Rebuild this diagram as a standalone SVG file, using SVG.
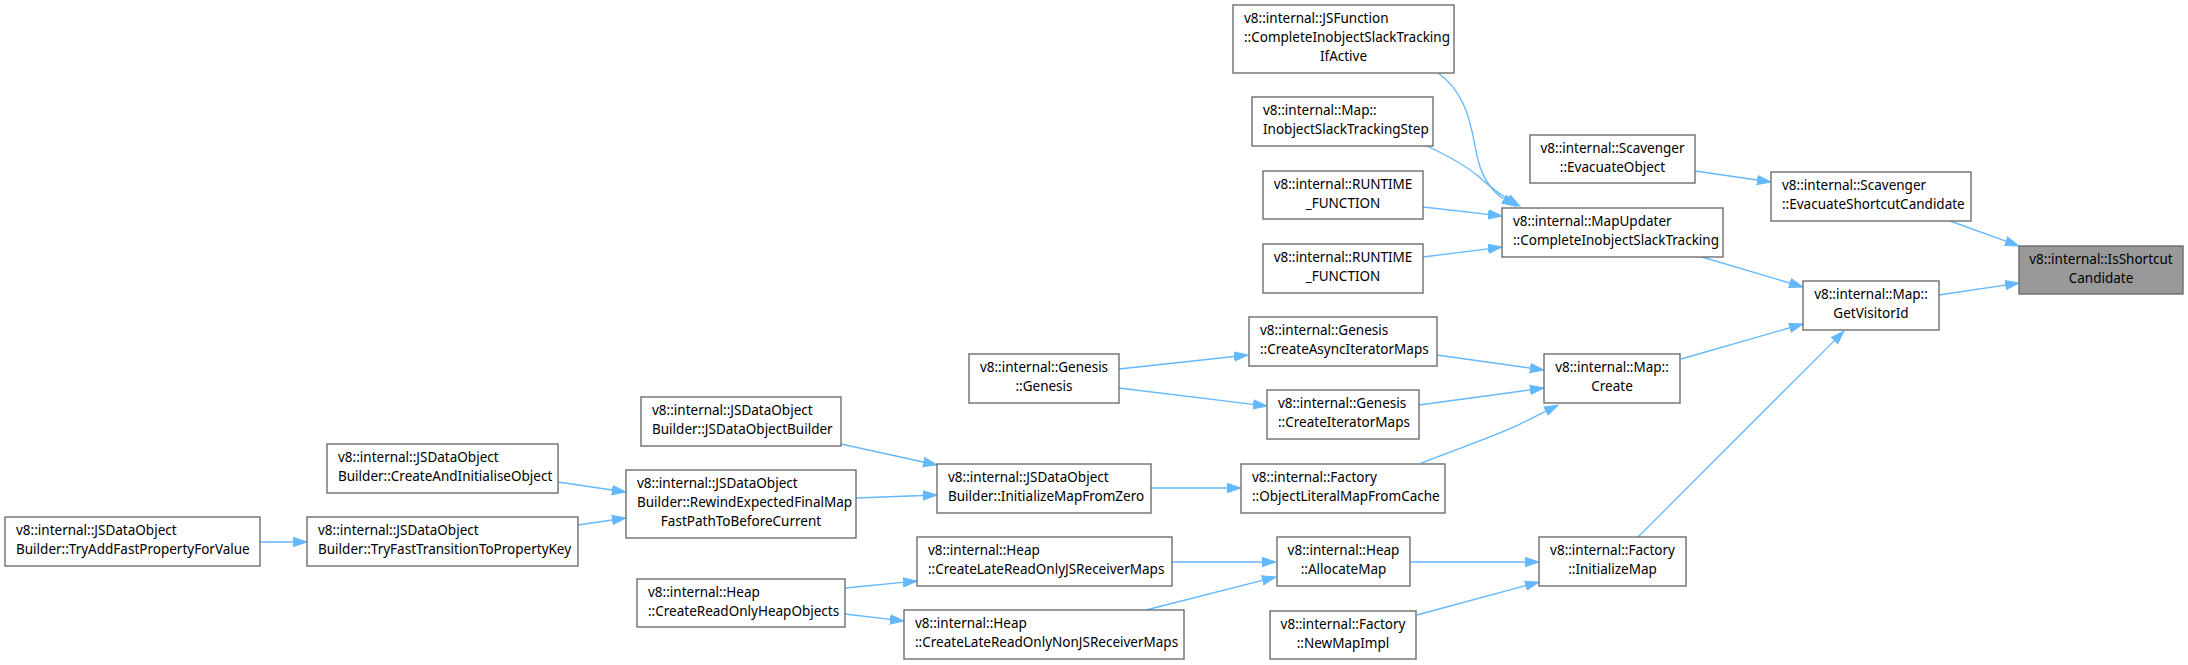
<svg xmlns="http://www.w3.org/2000/svg" width="2188" height="665" viewBox="0 0 2188 665">
<style>
.node rect{fill:#ffffff;stroke:#666666;stroke-width:1.33}
.node.hl rect{fill:#999999}
text{font-family:"Noto Sans","Open Sans",sans-serif;font-size:13.5px;fill:#000000}
text.c{text-anchor:middle}
.edges path{fill:none;stroke:#63b8ff;stroke-width:1.33}
</style>
<defs>
<marker id="ah" markerUnits="userSpaceOnUse" markerWidth="16" markerHeight="12" viewBox="0 0 16 12" refX="0" refY="6" orient="auto">
<path d="M0,1.3 L14,6 L0,10.7 z" fill="#63b8ff" stroke="#63b8ff" stroke-width="1"/>
</marker>
</defs>
<rect x="0" y="0" width="2188" height="665" fill="#ffffff"/>
<g id="connectors" class="edges">
<path marker-end="url(#ah)" d="M1950,221 L2005.8,241.2"/>
<path marker-end="url(#ah)" d="M1939,295 L2005.2,285.1"/>
<path marker-end="url(#ah)" d="M1695,171 L1757.1,180"/>
<path marker-end="url(#ah)" d="M1702,257 L1789.6,283"/>
<path marker-end="url(#ah)" d="M1681,359 L1789.5,327.9"/>
<path marker-end="url(#ah)" d="M1638,537 L1834.1,340.9"/>
<path marker-end="url(#ah)" d="M1438,73 C1470,95 1472,135 1478,160 C1483,180 1494,193 1504,199"/>
<path marker-end="url(#ah)" d="M1427,146 C1448,156 1465,165 1478,176 C1488,185 1498,193 1508,199"/>
<path marker-end="url(#ah)" d="M1423,207 L1488.1,214.4"/>
<path marker-end="url(#ah)" d="M1423,257 L1488.1,248.8"/>
<path marker-end="url(#ah)" d="M1119,369 L1234.1,356.5"/>
<path marker-end="url(#ah)" d="M1119,388 L1253.1,404.3"/>
<path marker-end="url(#ah)" d="M1437,355 L1530.1,368.1"/>
<path marker-end="url(#ah)" d="M1419,405 L1530.1,389.9"/>
<path marker-end="url(#ah)" d="M1421,463 C1450,452 1492,437 1518.7,424.9 C1528,420 1537,415.5 1545.5,411.3"/>
<path marker-end="url(#ah)" d="M1151,488 L1227,488"/>
<path marker-end="url(#ah)" d="M841,444 L923.3,462"/>
<path marker-end="url(#ah)" d="M856,498 L923,495.5"/>
<path marker-end="url(#ah)" d="M558,482 L612.1,490"/>
<path marker-end="url(#ah)" d="M578,525 L612.1,520"/>
<path marker-end="url(#ah)" d="M260,542 L293,542"/>
<path marker-end="url(#ah)" d="M845,588 L903.1,582.4"/>
<path marker-end="url(#ah)" d="M845,614 L890.1,619.4"/>
<path marker-end="url(#ah)" d="M1172,562 L1262,562"/>
<path marker-end="url(#ah)" d="M1146,610 L1262.4,580.4"/>
<path marker-end="url(#ah)" d="M1410,562 L1525,562"/>
<path marker-end="url(#ah)" d="M1417,615 L1525.5,585.7"/>
</g>
<g id="IsShortcutCandidate" class="node hl"><rect x="2019" y="246" width="164" height="48"/><text class="c" x="2101" y="264">v8::internal::IsShortcut</text><text class="c" x="2101" y="283">Candidate</text></g>
<g id="EvacuateShortcutCandidate" class="node"><rect x="1771" y="172" width="200" height="49"/><text x="1782" y="190">v8::internal::Scavenger</text><text x="1782" y="209">::EvacuateShortcutCandidate</text></g>
<g id="GetVisitorId" class="node"><rect x="1803" y="281" width="136" height="49"/><text class="c" x="1871" y="299">v8::internal::Map::</text><text class="c" x="1871" y="318">GetVisitorId</text></g>
<g id="EvacuateObject" class="node"><rect x="1530" y="135" width="165" height="48"/><text class="c" x="1612.5" y="153">v8::internal::Scavenger</text><text class="c" x="1612.5" y="172">::EvacuateObject</text></g>
<g id="MapUpdaterCompleteInobjectSlackTracking" class="node"><rect x="1502" y="208" width="221" height="49"/><text x="1513" y="226">v8::internal::MapUpdater</text><text x="1513" y="245">::CompleteInobjectSlackTracking</text></g>
<g id="JSFunctionCompleteInobjectSlackTrackingIfActive" class="node"><rect x="1233" y="5" width="221" height="68"/><text x="1244" y="23">v8::internal::JSFunction</text><text x="1244" y="42">::CompleteInobjectSlackTracking</text><text class="c" x="1343.5" y="61">IfActive</text></g>
<g id="InobjectSlackTrackingStep" class="node"><rect x="1252" y="97" width="181" height="49"/><text x="1263" y="115">v8::internal::Map::</text><text x="1263" y="134">InobjectSlackTrackingStep</text></g>
<g id="RUNTIME_FUNCTION_1" class="node"><rect x="1263" y="171" width="160" height="48"/><text class="c" x="1343" y="189">v8::internal::RUNTIME</text><text class="c" x="1343" y="208">_FUNCTION</text></g>
<g id="RUNTIME_FUNCTION_2" class="node"><rect x="1263" y="244" width="160" height="49"/><text class="c" x="1343" y="262">v8::internal::RUNTIME</text><text class="c" x="1343" y="281">_FUNCTION</text></g>
<g id="MapCreate" class="node"><rect x="1544" y="354" width="136" height="49"/><text class="c" x="1612" y="372">v8::internal::Map::</text><text class="c" x="1612" y="391">Create</text></g>
<g id="CreateAsyncIteratorMaps" class="node"><rect x="1249" y="317" width="188" height="49"/><text x="1260" y="335">v8::internal::Genesis</text><text x="1260" y="354">::CreateAsyncIteratorMaps</text></g>
<g id="CreateIteratorMaps" class="node"><rect x="1267" y="390" width="152" height="49"/><text x="1278" y="408">v8::internal::Genesis</text><text x="1278" y="427">::CreateIteratorMaps</text></g>
<g id="GenesisGenesis" class="node"><rect x="969" y="354" width="150" height="49"/><text class="c" x="1044" y="372">v8::internal::Genesis</text><text class="c" x="1044" y="391">::Genesis</text></g>
<g id="ObjectLiteralMapFromCache" class="node"><rect x="1241" y="464" width="204" height="49"/><text x="1252" y="482">v8::internal::Factory</text><text x="1252" y="501">::ObjectLiteralMapFromCache</text></g>
<g id="InitializeMapFromZero" class="node"><rect x="937" y="464" width="214" height="49"/><text x="948" y="482">v8::internal::JSDataObject</text><text x="948" y="501">Builder::InitializeMapFromZero</text></g>
<g id="JSDataObjectBuilder" class="node"><rect x="641" y="397" width="200" height="49"/><text x="652" y="415">v8::internal::JSDataObject</text><text x="652" y="434">Builder::JSDataObjectBuilder</text></g>
<g id="RewindExpectedFinalMapFastPathToBeforeCurrent" class="node"><rect x="626" y="470" width="230" height="68"/><text x="637" y="488">v8::internal::JSDataObject</text><text x="637" y="507">Builder::RewindExpectedFinalMap</text><text class="c" x="741" y="526">FastPathToBeforeCurrent</text></g>
<g id="CreateAndInitialiseObject" class="node"><rect x="327" y="444" width="231" height="49"/><text x="338" y="462">v8::internal::JSDataObject</text><text x="338" y="481">Builder::CreateAndInitialiseObject</text></g>
<g id="TryFastTransitionToPropertyKey" class="node"><rect x="307" y="517" width="271" height="49"/><text x="318" y="535">v8::internal::JSDataObject</text><text x="318" y="554">Builder::TryFastTransitionToPropertyKey</text></g>
<g id="TryAddFastPropertyForValue" class="node"><rect x="5" y="517" width="255" height="49"/><text x="16" y="535">v8::internal::JSDataObject</text><text x="16" y="554">Builder::TryAddFastPropertyForValue</text></g>
<g id="CreateReadOnlyHeapObjects" class="node"><rect x="637" y="579" width="208" height="48"/><text x="648" y="597">v8::internal::Heap</text><text x="648" y="616">::CreateReadOnlyHeapObjects</text></g>
<g id="CreateLateReadOnlyJSReceiverMaps" class="node"><rect x="917" y="537" width="255" height="49"/><text x="928" y="555">v8::internal::Heap</text><text x="928" y="574">::CreateLateReadOnlyJSReceiverMaps</text></g>
<g id="CreateLateReadOnlyNonJSReceiverMaps" class="node"><rect x="904" y="610" width="280" height="49"/><text x="915" y="628">v8::internal::Heap</text><text x="915" y="647">::CreateLateReadOnlyNonJSReceiverMaps</text></g>
<g id="AllocateMap" class="node"><rect x="1277" y="537" width="133" height="49"/><text class="c" x="1343.5" y="555">v8::internal::Heap</text><text class="c" x="1343.5" y="574">::AllocateMap</text></g>
<g id="InitializeMap" class="node"><rect x="1539" y="537" width="147" height="49"/><text class="c" x="1612.5" y="555">v8::internal::Factory</text><text class="c" x="1612.5" y="574">::InitializeMap</text></g>
<g id="NewMapImpl" class="node"><rect x="1270" y="611" width="146" height="48"/><text class="c" x="1343" y="629">v8::internal::Factory</text><text class="c" x="1343" y="648">::NewMapImpl</text></g>
</svg>
